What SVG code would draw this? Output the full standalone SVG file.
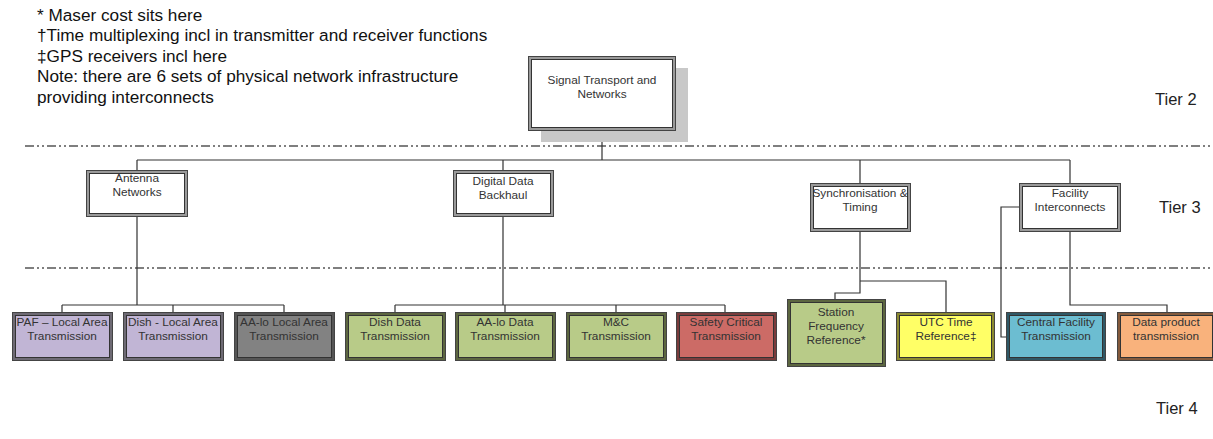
<svg xmlns="http://www.w3.org/2000/svg" width="1213" height="439" viewBox="0 0 1213 439">
  <style>
    text { font-family: "Liberation Sans", Arial, sans-serif; fill: #333; }
    .note { font-size: 17.2px; fill: #111; }
    .tier { font-size: 16.5px; fill: #222; }
    .lbl { font-size: 11.8px; text-anchor: middle; }
    .tierline { stroke: #555; stroke-width: 1.3; stroke-dasharray: 9 3 2 3 2 3; fill: none; }
    .conn { stroke: #333; stroke-width: 1.2; fill: none; }
    .frame { stroke: #444; stroke-width: 1; }
    .inner { stroke: #333; stroke-width: 1; }
  </style>

  <!-- footnotes -->
  <g id="notes">
    <text class="note" x="37" y="21">* Maser cost sits here</text>
    <text class="note" x="37" y="41">†Time multiplexing incl in transmitter and receiver functions</text>
    <text class="note" x="37" y="62">‡GPS receivers incl here</text>
    <text class="note" x="37" y="82">Note: there are 6 sets of physical network infrastructure</text>
    <text class="note" x="37" y="103">providing interconnects</text>
  </g>

  <!-- tier separators and labels -->
  <g id="tiers">
    <line class="tierline" x1="25" y1="146" x2="1213" y2="146"/>
    <line class="tierline" x1="25" y1="268" x2="1213" y2="268"/>
    <text class="tier" x="1155" y="105">Tier 2</text>
    <text class="tier" x="1159" y="213">Tier 3</text>
    <text class="tier" x="1156" y="414">Tier 4</text>
  </g>

  <!-- connectors -->
  <g id="connectors">
    <path class="conn" d="M602 130 V160 M137 160 H1070 M137 160 V170 M503 160 V170 M860 160 V183 M1070 160 V183"/>
    <!-- antenna networks -->
    <path class="conn" d="M137 216 V305 M62 305 H284 M62 305 V312 M173 305 V312 M284 305 V312"/>
    <!-- digital data backhaul -->
    <path class="conn" d="M503 216 V305 M395 305 H725 M395 305 V312 M505 305 V312 M616 305 V312 M725 305 V312"/>
    <!-- synchronisation & timing -->
    <path class="conn" d="M860 231 V293 H835 V299 M860 281 H946 V312"/>
    <!-- facility interconnects -->
    <path class="conn" d="M1070 231 V305 H1167 V312 M1019 207 H1001 V337 H1006"/>
  </g>

  <!-- tier 2 -->
  <g id="signal-transport">
    <rect x="541" y="68" width="147" height="74" fill="#c8c8c8"/>
    <rect class="frame" x="528.5" y="56.5" width="147" height="74" fill="#9a9a9a"/>
    <rect class="inner" x="531.5" y="59.5" width="141" height="68" fill="#fff"/>
    <text class="lbl" x="602" y="84">Signal Transport and</text>
    <text class="lbl" x="602" y="98">Networks</text>
  </g>

  <!-- tier 3 -->
  <g id="antenna-networks">
    <rect class="frame" x="86.5" y="170.5" width="101" height="46" fill="#9a9a9a"/>
    <rect class="inner" x="89.5" y="173.5" width="95" height="40" fill="#fff"/>
    <text class="lbl" x="137" y="182">Antenna</text>
    <text class="lbl" x="137" y="196">Networks</text>
  </g>
  <g id="digital-data-backhaul">
    <rect class="frame" x="453.5" y="170.5" width="100" height="46" fill="#9a9a9a"/>
    <rect class="inner" x="456.5" y="173.5" width="94" height="40" fill="#fff"/>
    <text class="lbl" x="503" y="185">Digital Data</text>
    <text class="lbl" x="503" y="199">Backhaul</text>
  </g>
  <g id="sync-timing">
    <rect class="frame" x="810.5" y="183.5" width="100" height="48" fill="#9a9a9a"/>
    <rect class="inner" x="813.5" y="186.5" width="94" height="42" fill="#fff"/>
    <text class="lbl" x="860" y="197">Synchronisation &amp;</text>
    <text class="lbl" x="860" y="211">Timing</text>
  </g>
  <g id="facility-interconnects">
    <rect class="frame" x="1019.5" y="183.5" width="101" height="48" fill="#9a9a9a"/>
    <rect class="inner" x="1022.5" y="186.5" width="95" height="42" fill="#fff"/>
    <text class="lbl" x="1070" y="197">Facility</text>
    <text class="lbl" x="1070" y="211">Interconnects</text>
  </g>

  <!-- tier 4 -->
  <g id="paf-local">
    <rect class="frame" x="12.5" y="312.5" width="100" height="48" fill="#6e6a74"/>
    <rect class="inner" x="15.5" y="315.5" width="94" height="42" fill="#c1b5d5"/>
    <text class="lbl" x="62" y="326">PAF – Local Area</text>
    <text class="lbl" x="62" y="340">Transmission</text>
  </g>
  <g id="dish-local">
    <rect class="frame" x="123.5" y="312.5" width="100" height="48" fill="#6e6a74"/>
    <rect class="inner" x="126.5" y="315.5" width="94" height="42" fill="#c1b5d5"/>
    <text class="lbl" x="173" y="326">Dish - Local Area</text>
    <text class="lbl" x="173" y="340">Transmission</text>
  </g>
  <g id="aalo-local">
    <rect class="frame" x="234.5" y="312.5" width="100" height="48" fill="#555"/>
    <rect class="inner" x="237.5" y="315.5" width="94" height="42" fill="#828282"/>
    <text class="lbl" x="284" y="326">AA-lo Local Area</text>
    <text class="lbl" x="284" y="340">Transmission</text>
  </g>
  <g id="dish-data">
    <rect class="frame" x="345.5" y="312.5" width="100" height="48" fill="#5c6640"/>
    <rect class="inner" x="348.5" y="315.5" width="94" height="42" fill="#b8cb88"/>
    <text class="lbl" x="395" y="326">Dish Data</text>
    <text class="lbl" x="395" y="340">Transmission</text>
  </g>
  <g id="aalo-data">
    <rect class="frame" x="455.5" y="312.5" width="100" height="48" fill="#5c6640"/>
    <rect class="inner" x="458.5" y="315.5" width="94" height="42" fill="#b8cb88"/>
    <text class="lbl" x="505" y="326">AA-lo Data</text>
    <text class="lbl" x="505" y="340">Transmission</text>
  </g>
  <g id="mc">
    <rect class="frame" x="566.5" y="312.5" width="100" height="48" fill="#5c6640"/>
    <rect class="inner" x="569.5" y="315.5" width="94" height="42" fill="#b8cb88"/>
    <text class="lbl" x="616" y="326">M&amp;C</text>
    <text class="lbl" x="616" y="340">Transmission</text>
  </g>
  <g id="safety-critical">
    <rect class="frame" x="676.5" y="312.5" width="100" height="48" fill="#7a3c3c"/>
    <rect class="inner" x="679.5" y="315.5" width="94" height="42" fill="#cc6b66"/>
    <text class="lbl" x="726" y="326">Safety Critical</text>
    <text class="lbl" x="726" y="340">Transmission</text>
  </g>
  <g id="station-frequency">
    <rect class="frame" x="787.5" y="299.5" width="98" height="67" fill="#5c6640"/>
    <rect class="inner" x="790.5" y="302.5" width="92" height="61" fill="#b8cb88"/>
    <text class="lbl" x="836" y="316">Station</text>
    <text class="lbl" x="836" y="330">Frequency</text>
    <text class="lbl" x="836" y="344">Reference*</text>
  </g>
  <g id="utc-time">
    <rect class="frame" x="896.5" y="312.5" width="98" height="48" fill="#8c8a30"/>
    <rect class="inner" x="899.5" y="315.5" width="92" height="42" fill="#ffff66"/>
    <text class="lbl" x="946" y="326">UTC Time</text>
    <text class="lbl" x="946" y="340">Reference‡</text>
  </g>
  <g id="central-facility">
    <rect class="frame" x="1006.5" y="312.5" width="99" height="48" fill="#2f5866"/>
    <rect class="inner" x="1009.5" y="315.5" width="93" height="42" fill="#6cbdd1"/>
    <text class="lbl" x="1056" y="326">Central Facility</text>
    <text class="lbl" x="1056" y="340">Transmission</text>
  </g>
  <g id="data-product">
    <rect class="frame" x="1117.5" y="312.5" width="98" height="48" fill="#845a3c"/>
    <rect class="inner" x="1120.5" y="315.5" width="92" height="42" fill="#f9b27c"/>
    <text class="lbl" x="1166" y="326">Data product</text>
    <text class="lbl" x="1166" y="340">transmission</text>
  </g>
</svg>
